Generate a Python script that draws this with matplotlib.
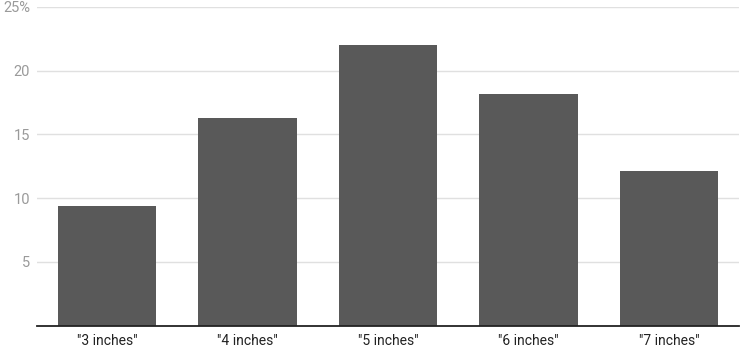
import matplotlib.pyplot as plt
from matplotlib.ticker import FixedLocator, FixedFormatter

plt.rcParams['font.family'] = ['Roboto', 'DejaVu Sans']

categories = ['"3 inches"', '"4 inches"', '"5 inches"', '"6 inches"', '"7 inches"']
shares = [9.4, 16.3, 22.0, 18.2, 12.15]
y_ticks = [5, 10, 15, 20, 25]
y_labels = ['5', '10', '15', '20', '25%']

fig = plt.figure(figsize=(7.44, 3.49), dpi=100)
ax = fig.add_axes([0.0495, 0.0673, 0.944, 0.9127])

x = range(len(categories))
ax.bar(x, shares, width=0.7, color='#595959', zorder=3)

ax.set_xlim(-0.5, len(categories) - 0.5)
ax.set_ylim(0, 25)
ax.yaxis.set_major_locator(FixedLocator(y_ticks))
ax.yaxis.set_major_formatter(FixedFormatter(y_labels))
ax.set_xticks(list(x))
ax.set_xticklabels(categories)

ax.grid(axis='y', color='#e0e0e0', linewidth=1, zorder=0)
for side in ['top', 'right', 'left']:
    ax.spines[side].set_visible(False)
ax.spines['bottom'].set_color('#222222')
ax.spines['bottom'].set_linewidth(1.3)
ax.spines['bottom'].set_zorder(4)

ax.tick_params(axis='y', length=0, pad=5, labelsize=10.5, labelcolor='#9a9a9a')
ax.tick_params(axis='x', length=0, pad=6, labelsize=10, labelcolor='#222222')

plt.savefig('out.png', dpi=100)
plt.close()
